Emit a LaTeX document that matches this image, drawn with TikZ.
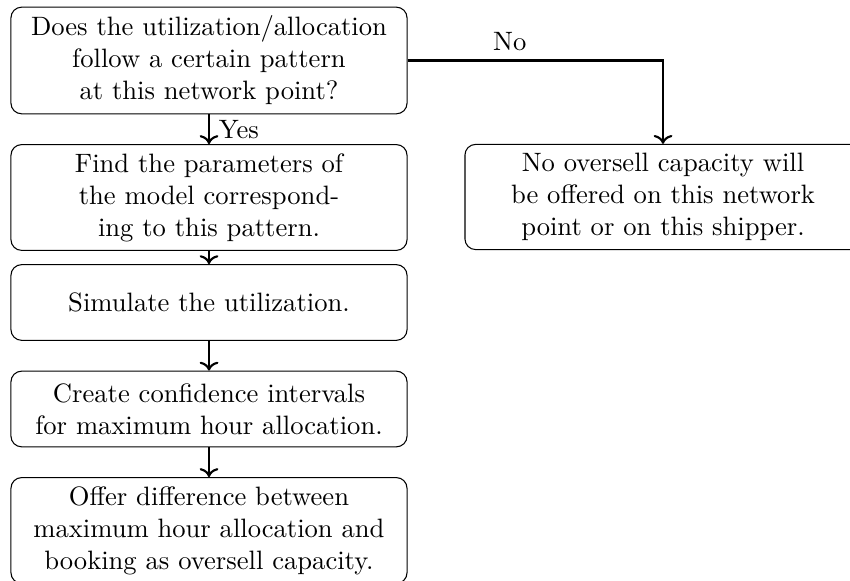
\documentclass[tikz,border=0pt]{standalone}
\usetikzlibrary{arrows.meta}
\begin{document}
\begin{tikzpicture}[x=0.376pt,y=-0.376pt,
  box/.style={draw, rounded corners, text width=5cm, align=center, minimum height=1cm, inner sep=3.33pt},
  conn/.style={->, thick}]
\useasboundingbox (0,0) rectangle (850,581);
\node[box] (b1) at (209,60.5) {Does the utilization/allocation follow a certain pattern at this network point?};
\node[box] (b2) at (209,197.5) {Find the parameters of the model corresponding to this pattern.};
\node[box] (b3) at (209,302.5) {Simulate the utilization.};
\node[box] (b4) at (209,409) {Create confidence intervals for maximum hour allocation.};
\node[box] (b5) at (209,530.5) {Offer difference between maximum hour allocation and booking as oversell capacity.};
\node[box] (r) at (663,197) {No oversell capacity will be offered on this network point or on this shipper.};
\draw[conn] (b1) -- node[right] {Yes} (b2);
\draw[conn] (b2) -- (b3);
\draw[conn] (b3) -- (b4);
\draw[conn] (b4) -- (b5);
\draw[conn] (b1.east) -| node[above, pos=0.2] {No} (r.north);
\end{tikzpicture}
\end{document}
